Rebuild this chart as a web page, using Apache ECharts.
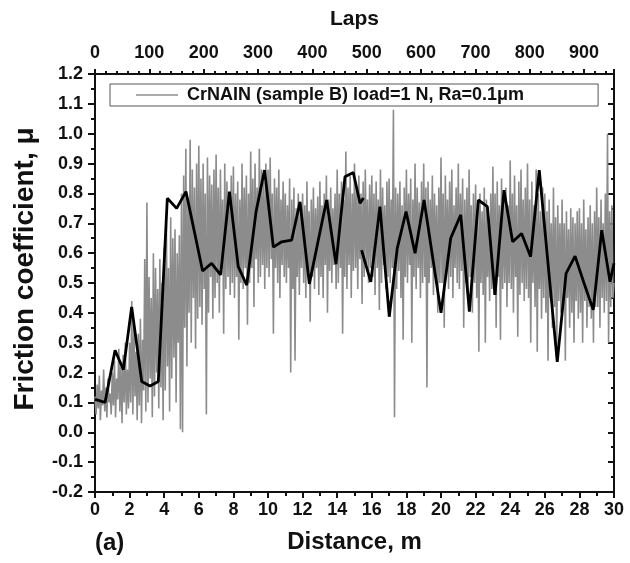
<!DOCTYPE html>
<html><head><meta charset="utf-8">
<script src="https://cdn.jsdelivr.net/npm/echarts@6/dist/echarts.min.js"></script>
<style>html,body{margin:0;padding:0;background:#fff}#c{width:630px;height:563px}</style>
</head><body><div id="c"></div>
<script>
const grayStep = 0.0625;
const grayValues = [
  .12,.06,.16,.08,.19,.04,.14,.09,.21,.07,.15,.05,.18,.10,.13,.06,
  .20,.09,.24,.05,.18,.11,.28,.07,.22,.03,.26,.10,.30,.06,.21,.08,
  .30,.10,.44,.06,.36,.12,.27,.04,.33,.09,.38,.03,.31,.14,.58,.07,
  .77,.10,.52,.18,.45,.05,.60,.12,.55,.20,.48,.08,.58,.15,.50,.04,
  .62,.14,.70,.22,.55,.07,.72,.18,.65,.25,.68,.10,.60,.30,.66,.01,
  .80,.00,.86,.35,.95,.22,.78,.40,.98,.30,.88,.45,.82,.28,.90,.38,
  .96,.42,.85,.36,.90,.48,.80,.06,.92,.40,.86,.52,.83,.38,.88,.45,
  .93,.50,.82,.40,.88,.55,.78,.33,.90,.48,.84,.52,.80,.46,.86,.50,
  .89,.45,.80,.52,.84,.31,.78,.50,.90,.48,.82,.55,.86,.36,.80,.50,
  .94,.55,.85,.42,.90,.58,.82,.50,.95,.52,.88,.56,.84,.48,.90,.55,
  .88,.52,.92,.58,.80,.33,.85,.55,.82,.50,.88,.45,.78,.56,.84,.52,
  .80,.50,.76,.55,.85,.20,.78,.48,.82,.24,.75,.52,.80,.46,.77,.55,
  .80,.50,.76,.45,.84,.54,.74,.37,.78,.52,.82,.48,.75,.55,.79,.46,
  .84,.52,.76,.45,.80,.56,.86,.40,.78,.54,.82,.50,.75,.56,.80,.48,
  .88,.50,.80,.55,.84,.33,.78,.52,.94,.48,.82,.56,.86,.45,.80,.54,
  .90,.55,.82,.48,.86,.58,.80,.43,.84,.52,.88,.56,.78,.50,.83,.55,
  .86,.52,.80,.46,.84,.55,.78,.41,.88,.50,.82,.56,.76,.48,.84,.52,
  .85,.50,.78,.55,1.08,.05,.82,.48,.80,.54,.84,.45,.76,.31,.82,.52,
  .88,.50,.80,.56,.85,.30,.78,.52,.90,.48,.82,.55,.77,.45,.84,.50,
  .90,.52,.82,.15,.84,.50,.78,.55,.86,.46,.80,.52,.76,.40,.82,.50,
  .92,.50,.80,.35,.86,.54,.78,.48,.84,.52,.88,.45,.76,.55,.82,.50,
  .90,.48,.80,.54,.85,.35,.78,.50,.82,.45,.88,.52,.76,.40,.80,.50,
  .83,.45,.76,.27,.80,.50,.74,.46,.82,.30,.78,.52,.72,.44,.80,.48,
  .89,.46,.80,.35,.84,.52,.76,.31,.85,.48,.78,.50,.82,.42,.76,.50,
  .91,.48,.80,.40,.86,.52,.76,.32,.84,.46,.88,.50,.78,.44,.82,.48,
  .90,.45,.78,.30,.84,.50,.76,.42,.88,.27,.80,.48,.74,.38,.82,.45,
  .80,.40,.74,.24,.78,.45,.70,.35,.82,.42,.72,.25,.76,.44,.70,.40,
  .78,.42,.70,.24,.74,.45,.68,.35,.75,.40,.72,.30,.70,.44,.74,.38,
  .75,.40,.70,.30,.78,.44,.68,.35,.72,.42,.76,.38,.70,.30,.74,.42,
  .82,.42,.72,.35,.78,.45,.70,.40,.80,.44,1.00,.30,.74,.42,.76,.45,
  .50
];

// Averaged friction coefficient (black line); null = break in the line
const meanDistance = [0,0.58,1.16,1.64,2.12,2.70,3.18,3.66,4.18,4.72,5.26,6.22,6.74,7.26,7.77,8.28,8.77,9.31,9.80,10.31,10.79,11.37,11.85,12.39,12.91,13.39,13.93,14.45,14.93,15.32,15.52,15.45,15.41,15.94,16.47,17.01,17.47,17.98,18.50,19.02,20.00,20.56,21.14,21.64,22.16,22.68,23.12,23.64,24.14,24.66,25.18,25.68,26.72,27.23,27.75,28.27,28.80,29.29,29.77,30.00];
const meanFriction = [0.11,0.10,0.275,0.21,0.42,0.17,0.155,0.17,0.784,0.75,0.806,0.54,0.566,0.527,0.806,0.555,0.493,0.739,0.878,0.62,0.638,0.644,0.772,0.497,0.644,0.778,0.563,0.856,0.87,0.767,0.785,null,0.61,0.504,0.756,0.387,0.616,0.739,0.60,0.778,0.40,0.65,0.728,0.404,0.778,0.756,0.46,0.811,0.638,0.666,0.588,0.878,0.236,0.532,0.59,0.499,0.41,0.677,0.504,0.566];

const distanceRange = [0, 30];
const frictionRange = [-0.2, 1.2];
const lapsMax = 955;
const legendLabel = 'CrNAIN (sample B) load=1 N, Ra=0.1μm';
const xTitle = 'Distance, m';
const yTitle = 'Friction coefficient, μ';
const topTitle = 'Laps';
const panelLabel = '(a)';

const FONT = '"Liberation Sans", Arial, sans-serif';
const INK = '#111';
const GRAY = '#8c8c8c';
const grayData = grayValues.map((v, i) => [i * grayStep, v]);
const meanData = meanDistance.map((x, i) => meanFriction[i] === null ? [x, '-'] : [x, meanFriction[i]]);

const labelStyle = {fontFamily: FONT, fontWeight: 'bold', fontSize: 18, color: INK};
const lineSt = {color: INK, width: 2};

const chart = echarts.init(document.getElementById('c'), null, {renderer: 'canvas'});
chart.setOption({
  animation: false,
  backgroundColor: '#fff',
  grid: {left: 95, right: 16, top: 74, bottom: 71},
  legend: {
    data: [{name: legendLabel}],
    left: 110, top: 84, z: 10,
    backgroundColor: '#fff', borderColor: '#555', borderWidth: 1,
    padding: [2, 74, 2, 26],
    icon: 'rect', itemWidth: 42, itemHeight: 1.5,
    textStyle: {fontFamily: FONT, fontWeight: 'bold', fontSize: 18, color: INK, padding: [0, 0, 0, 4]}
  },
  xAxis: [{
    type: 'value', position: 'bottom', min: distanceRange[0], max: distanceRange[1], interval: 2,
    name: xTitle, nameLocation: 'middle', nameGap: 38,
    nameTextStyle: {fontFamily: FONT, fontWeight: 'bold', fontSize: 24, color: INK},
    axisLine: {onZero: false, lineStyle: lineSt},
    axisTick: {inside: false, length: 6, lineStyle: lineSt},
    minorTick: {show: true, splitNumber: 2, length: 4, lineStyle: lineSt},
    splitLine: {show: false}, minorSplitLine: {show: false},
    axisLabel: Object.assign({margin: 9}, labelStyle)
  }, {
    type: 'value', position: 'top', min: 0, max: lapsMax, interval: 100,
    name: topTitle, nameLocation: 'middle', nameGap: 44,
    nameTextStyle: {fontFamily: FONT, fontWeight: 'bold', fontSize: 21, color: INK},
    axisLine: {onZero: false, lineStyle: lineSt},
    axisTick: {inside: false, length: 5, lineStyle: lineSt},
    minorTick: {show: true, splitNumber: 5, length: 3, lineStyle: lineSt},
    splitLine: {show: false}, minorSplitLine: {show: false},
    axisLabel: Object.assign({margin: 12, showMaxLabel: false}, labelStyle)
  }],
  yAxis: [{
    type: 'value', position: 'left', min: frictionRange[0], max: frictionRange[1], interval: 0.1,
    name: yTitle, nameLocation: 'middle', nameGap: 56, nameRotate: 90,
    nameTextStyle: {fontFamily: FONT, fontWeight: 'bold', fontSize: 28, color: INK, padding: [0, 0, 0, 28]},
    axisLine: {onZero: false, lineStyle: lineSt},
    axisTick: {inside: false, length: 7, lineStyle: lineSt},
    minorTick: {show: true, splitNumber: 2, length: 4, lineStyle: lineSt},
    splitLine: {show: false}, minorSplitLine: {show: false},
    axisLabel: Object.assign({margin: 12, formatter: v => v.toFixed(1)}, labelStyle)
  }, {
    type: 'value', position: 'right', min: frictionRange[0], max: frictionRange[1], interval: 0.1,
    axisLine: {onZero: false, lineStyle: lineSt},
    axisTick: {inside: true, length: 6, lineStyle: lineSt},
    minorTick: {show: true, splitNumber: 2, length: 3, lineStyle: lineSt},
    splitLine: {show: false}, minorSplitLine: {show: false},
    axisLabel: {show: false}
  }],
  graphic: [{
    type: 'text', left: 95, top: 531, z: 10,
    style: {text: panelLabel, fontFamily: FONT, fontWeight: 'bold', fontSize: 24, fill: INK}
  }],
  series: [{
    name: legendLabel, type: 'line', xAxisIndex: 0, yAxisIndex: 0,
    data: grayData, showSymbol: false, symbol: 'none', z: 1,
    lineStyle: {color: GRAY, width: 1.6}, itemStyle: {color: GRAY}
  }, {
    name: 'mean', type: 'line', xAxisIndex: 0, yAxisIndex: 0,
    data: meanData, showSymbol: false, symbol: 'none', z: 3, connectNulls: false,
    lineStyle: {color: '#000', width: 2.8}, itemStyle: {color: '#000'}
  }]
});
</script>
</body></html>
